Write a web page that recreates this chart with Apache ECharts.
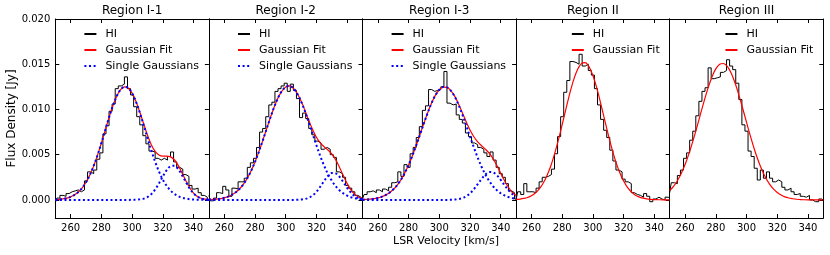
<!DOCTYPE html>
<html><head><meta charset="utf-8">
<script src="https://cdn.jsdelivr.net/npm/echarts@6/dist/echarts.min.js"></script>
<style>html,body{margin:0;padding:0;background:#fff}#c{width:830px;height:255px}</style>
</head><body><div id="c"></div>
<script>
// ---------- data (flux in units of 1e-3 Jy) ----------
const regions = ['Region I-1', 'Region I-2', 'Region I-3', 'Region II', 'Region III'];
const xTicks = [260, 280, 300, 320, 340];
const yTicks = [0, 0.005, 0.010, 0.015, 0.020];
const chanStart = 250, chanWidth = 2.0;   // HI spectrum channels (km/s)
const fitStart = 250, fitStep = 2.5;      // sampling of fitted curves (km/s)

const hiI1 = [-0.3,0.2,0.5,0.4,0.7,0.9,1.0,1.1,0.9,1.1,2.1,3.1,2.9,3.3,4.5,5.2,7.3,8.2,9.8,10.6,12.3,12.6,12.8,13.6,12.3,11.6,10.3,9.2,8.3,7.1,6.2,5.4,5.3,4.6,4.4,4.6,4.4,4.8,5.3,4.2,3.6,3.4,2.8,2.6,1.6,1.2,1.3,0.8,0.5,0.3,0.0];
const hiI2 = [0.5,-0.1,0.2,0.8,0.7,1.5,1.1,0.4,1.3,1.2,2.0,2.0,2.4,3.6,4.1,4.6,5.8,7.5,7.9,9.2,10.5,10.8,12.0,12.3,12.6,12.9,12.0,12.8,12.1,11.2,9.1,9.6,9.0,7.9,7.2,6.5,6.3,5.6,5.8,5.6,5.0,4.7,3.1,2.9,2.5,1.6,1.3,0.9,0.5,0.3,0.1];
const hiI3 = [0.1,0.6,0.9,1.0,0.8,1.1,0.9,1.2,1.0,1.4,1.9,2.0,3.1,2.6,3.9,3.6,5.1,5.8,6.9,8.1,9.9,10.4,12.2,12.0,12.1,12.2,12.5,14.2,10.7,10.5,10.6,9.4,8.9,8.5,7.4,7.0,6.3,6.1,5.8,5.6,5.2,4.8,5.3,4.4,3.6,2.9,2.5,1.8,1.0,0.8,0.1];
const hiII = [0.0,0.9,0.6,1.8,0.9,0.9,0.8,1.3,2.0,2.5,2.6,2.8,3.4,5.1,7.0,9.2,11.9,13.2,15.3,15.2,15.0,16.1,14.8,15.0,14.3,13.8,12.3,10.5,8.9,7.7,6.9,5.5,4.3,3.3,3.1,2.3,2.0,1.8,0.8,0.6,0.5,0.3,0.7,0.4,-0.2,0.1,0.3,0.1,0.0,0.3,0.2];
const hiIII = [0.8,1.9,1.8,2.7,3.3,4.6,5.2,6.6,7.6,9.3,10.9,12.0,12.4,14.6,13.4,13.5,13.6,14.1,14.3,15.5,14.8,14.4,12.9,11.1,8.3,7.6,5.4,4.8,3.5,2.2,3.3,2.4,3.1,2.4,2.0,2.2,2.0,1.4,1.1,1.3,0.9,0.6,0.7,0.4,0.3,0.5,0.0,-0.2,-0.2,0.1,0.0];

const fitI1 = [0.03,0.06,0.12,0.20,0.34,0.56,0.88,1.33,1.95,2.76,3.76,4.95,6.29,7.71,9.12,10.41,11.46,12.18,12.49,12.37,11.81,10.89,9.72,8.43,7.17,6.11,5.36,4.96,4.84,4.85,4.76,4.44,3.82,2.99,2.12,1.34,0.76,0.39,0.18,0.08,0.03];
const gaI1 = [0.03,0.06,0.12,0.20,0.34,0.56,0.88,1.33,1.95,2.76,3.76,4.95,6.29,7.71,9.12,10.41,11.46,12.18,12.49,12.36,11.80,10.87,9.66,8.29,6.85,5.47,4.22,3.14,2.25,1.56,1.04,0.67,0.42,0.25,0.15,0.08,0.04,0.02,0.01,0.01,0.00];
const gbI1 = [0,0,0,0,0,0,0,0,0,0,0,0,0,0,0,0,0,0,0,0,0.01,0.02,0.06,0.14,0.32,0.64,1.14,1.82,2.59,3.29,3.72,3.77,3.40,2.74,1.97,1.26,0.72,0.37,0.17,0.07,0.03];

const fitI2 = [0.03,0.05,0.08,0.14,0.23,0.36,0.56,0.84,1.23,1.74,2.40,3.22,4.19,5.31,6.53,7.81,9.08,10.27,11.28,12.03,12.49,12.60,12.34,11.77,10.94,9.91,8.81,7.79,6.93,6.31,5.88,5.52,5.09,4.45,3.62,2.69,1.80,1.10,0.61,0.32,0.15];
const gaI2 = [0.03,0.05,0.08,0.14,0.23,0.36,0.56,0.84,1.23,1.74,2.40,3.22,4.19,5.31,6.53,7.81,9.08,10.27,11.28,12.03,12.49,12.60,12.34,11.76,10.90,9.81,8.58,7.30,6.04,4.85,3.79,2.87,2.12,1.52,1.06,0.72,0.47,0.30,0.19,0.12,0.07];
const gbI2 = [0,0,0,0,0,0,0,0,0,0,0,0,0,0,0,0,0,0,0,0,0,0,0,0.01,0.04,0.10,0.23,0.49,0.89,1.46,2.09,2.65,2.97,2.93,2.56,1.97,1.33,0.80,0.42,0.20,0.08];

const fitI3 = [0.03,0.05,0.08,0.14,0.22,0.35,0.53,0.79,1.15,1.62,2.22,2.97,3.86,4.89,6.04,7.25,8.48,9.66,10.72,11.58,12.18,12.47,12.44,12.09,11.47,10.61,9.64,8.64,7.72,6.98,6.42,5.99,5.61,5.17,4.55,3.80,2.95,2.11,1.40,0.85,0.48];
const gaI3 = [0.03,0.05,0.08,0.14,0.22,0.35,0.53,0.79,1.15,1.62,2.22,2.97,3.86,4.89,6.04,7.25,8.48,9.66,10.72,11.58,12.18,12.47,12.44,12.08,11.43,10.52,9.44,8.24,7.00,5.80,4.68,3.67,2.80,2.09,1.51,1.07,0.74,0.49,0.32,0.20,0.13];
const gbI3 = [0,0,0,0,0,0,0,0,0,0,0,0,0,0,0,0,0,0,0,0,0,0,0,0.01,0.04,0.09,0.20,0.40,0.72,1.18,1.74,2.32,2.81,3.08,3.04,2.73,2.21,1.62,1.08,0.65,0.35];

const fitII = [0.05,0.09,0.16,0.27,0.46,0.76,1.19,1.81,2.65,3.72,5.06,6.61,8.33,10.10,11.81,13.30,14.42,15.07,15.17,14.71,13.75,12.38,10.73,8.96,7.21,5.59,4.18,3.01,2.08,1.39,0.90,0.55,0.33,0.19,0.11,0.06,0.03,0.02,0.01,0.00,0.00];
const fitIII = [1.02,1.49,2.12,2.92,3.91,5.09,6.44,7.91,9.46,10.98,12.39,13.59,14.48,14.99,15.08,14.75,14.02,12.95,11.62,10.13,8.59,7.08,5.66,4.41,3.33,2.45,1.75,1.21,0.82,0.54,0.34,0.21,0.13,0.07,0.04,0.02,0.01,0.01,0.00,0.00,0.00];

// ---------- build ----------
const FONT = 'DejaVu Sans';
const SCALE = 0.001;
const panels = [
  {hi: hiI1, fit: fitI1, gauss: [gaI1, gbI1]},
  {hi: hiI2, fit: fitI2, gauss: [gaI2, gbI2]},
  {hi: hiI3, fit: fitI3, gauss: [gaI3, gbI3]},
  {hi: hiII, fit: fitII, gauss: []},
  {hi: hiIII, fit: fitIII, gauss: []}
];
const toHi = arr => arr.map((v, i) => [chanStart + i * chanWidth, v * SCALE]);
const toFit = arr => arr.map((v, i) => [fitStart + i * fitStep, v * SCALE]);

const P_LEFT = 55.3, P_W = 153.6, P_TOP = 19, P_H = 199;
const grid = [], xAxis = [], yAxis = [], series = [], legend = [], title = [];
const axLine = {show: true, onZero: false, lineStyle: {color: '#000', width: 1}};

panels.forEach((p, i) => {
  const left = P_LEFT + i * P_W;
  grid.push({left: left, top: P_TOP, width: P_W, height: P_H});
  const xt = {show: true, inside: true, length: 4, lineStyle: {color: '#000'}, customValues: xTicks};
  xAxis.push({gridIndex: i, type: 'value', min: 250, max: 350, position: 'bottom',
    axisLine: axLine, axisTick: xt, splitLine: {show: false},
    axisLabel: {customValues: xTicks, fontSize: 10, color: '#000', margin: 5, fontFamily: FONT}});
  xAxis.push({gridIndex: i, type: 'value', min: 250, max: 350, position: 'top',
    axisLine: axLine, axisTick: xt, splitLine: {show: false}, axisLabel: {show: false}});
  yAxis.push({gridIndex: i, type: 'value', min: -0.002, max: 0.020, position: 'left',
    axisLine: axLine, splitLine: {show: false},
    axisTick: {show: i === 0, inside: true, length: 4, lineStyle: {color: '#000'}, customValues: yTicks},
    axisLabel: {show: i === 0, customValues: yTicks, formatter: v => v.toFixed(3), fontSize: 10, color: '#000', margin: 5, fontFamily: FONT},
    name: i === 0 ? 'Flux Density [Jy]' : '', nameLocation: 'middle', nameRotate: 90, nameGap: 36,
    nameTextStyle: {fontSize: 12, color: '#000', fontFamily: FONT}});
  yAxis.push({gridIndex: i, type: 'value', min: -0.002, max: 0.020, position: 'right',
    axisLine: axLine, splitLine: {show: false},
    axisTick: {show: true, inside: true, length: 4, lineStyle: {color: '#000'}, customValues: yTicks},
    axisLabel: {show: false}});

  const xi = 2 * i, yi = 2 * i;
  series.push({name: 'HI', type: 'line', xAxisIndex: xi, yAxisIndex: yi, data: toHi(p.hi),
    step: 'middle', symbol: 'none', lineStyle: {color: '#000', width: 1}, itemStyle: {color: '#000'}, z: 2});
  series.push({name: 'Gaussian Fit', type: 'line', xAxisIndex: xi, yAxisIndex: yi, data: toFit(p.fit),
    smooth: 0.35, symbol: 'none', lineStyle: {color: '#ff0000', width: 1.2}, itemStyle: {color: '#ff0000'}, z: 3});
  p.gauss.forEach(g => {
    series.push({name: 'Single Gaussians', type: 'line', xAxisIndex: xi, yAxisIndex: yi, data: toFit(g),
      smooth: 0.35, symbol: 'none', lineStyle: {color: '#0000ff', width: 2, type: [2, 2.6]}, itemStyle: {color: '#0000ff'}, z: 4});
  });

  legend.push({
    data: p.gauss.length ? ['HI', 'Gaussian Fit', 'Single Gaussians'] : ['HI', 'Gaussian Fit'],
    orient: 'vertical', right: 830 - (left + P_W - 10), top: 28, padding: 0,
    itemWidth: 12, itemHeight: 10, itemGap: 4, selectedMode: false,
    itemStyle: {opacity: 0, borderWidth: 0},
    textStyle: {fontSize: 11, color: '#000', fontFamily: FONT, lineHeight: 12, padding: [0, 0, 0, 4]}
  });
  title.push({text: regions[i], left: left + P_W / 2, top: 5, textAlign: 'center', padding: 0,
    textStyle: {fontSize: 12, fontWeight: 'normal', color: '#000', fontFamily: FONT}});
});
title.push({text: 'LSR Velocity [km/s]', left: 446, top: 236, textAlign: 'center', padding: 0,
  textStyle: {fontSize: 11, fontWeight: 'normal', color: '#000', fontFamily: FONT}});

const chart = echarts.init(document.getElementById('c'), null, {renderer: 'canvas'});
chart.setOption({animation: false, backgroundColor: '#fff', title, grid, xAxis, yAxis, series, legend});
</script></body></html>
